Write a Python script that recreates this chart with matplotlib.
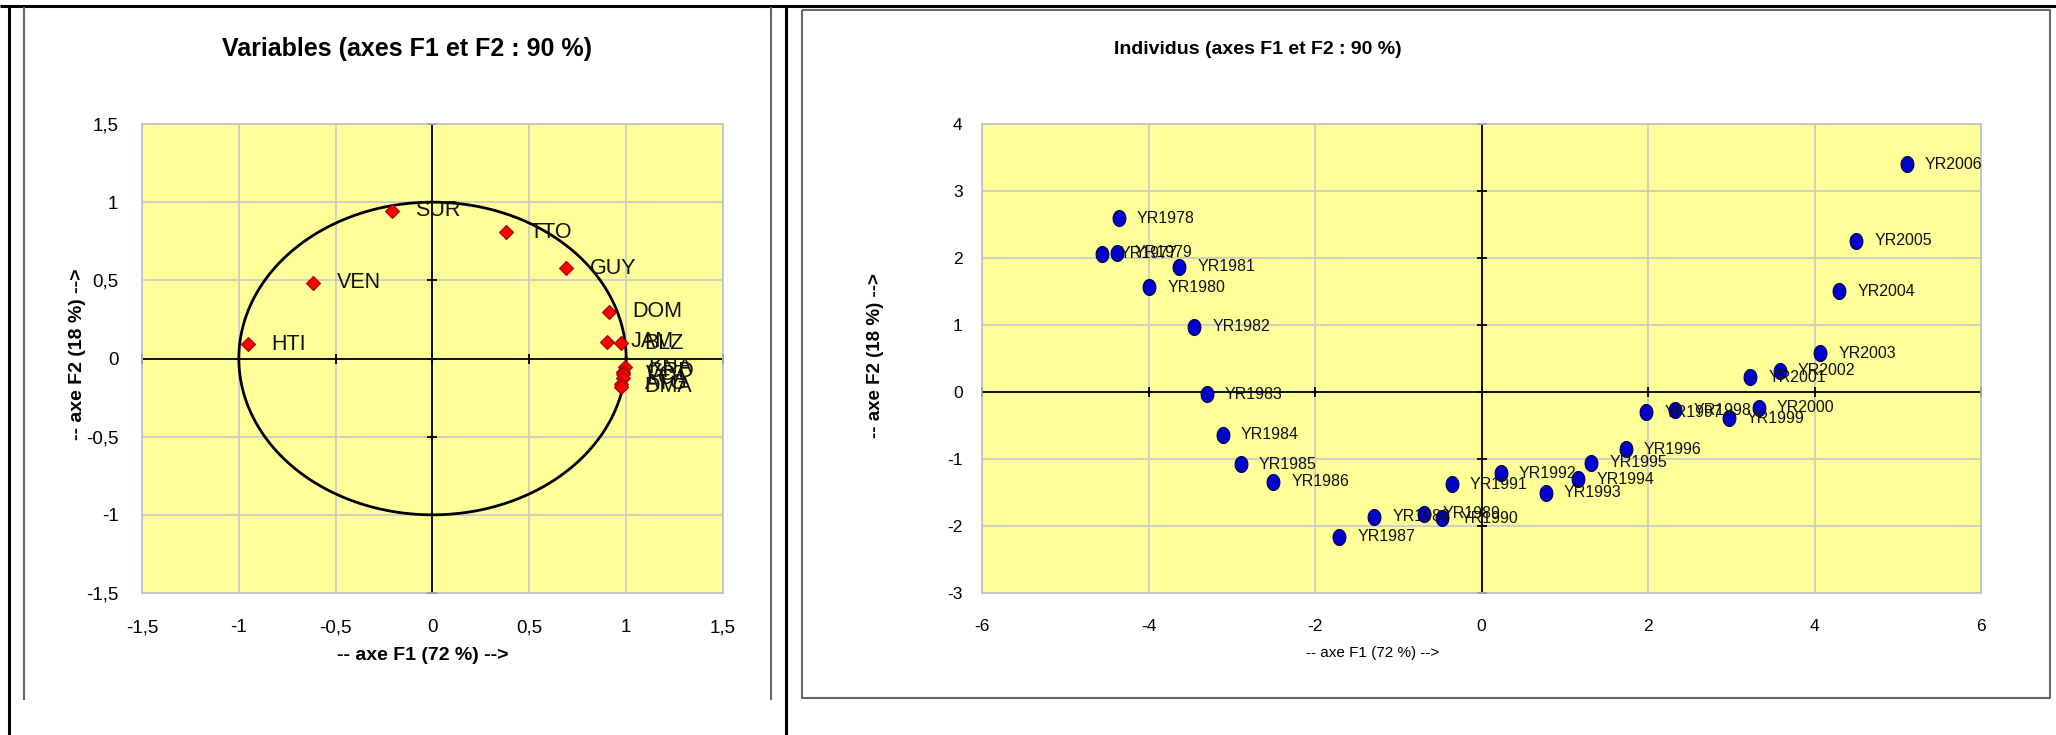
import numpy as np
import matplotlib
matplotlib.use('Agg')
import matplotlib.pyplot as plt
from matplotlib import font_manager
from matplotlib.path import Path
from matplotlib.lines import Line2D

# ---- data: variables (correlation circle) ----
var_names = ['SUR', 'TTO', 'GUY', 'VEN', 'DOM', 'HTI', 'JAM', 'BLZ',
             'KNA', 'GRD', 'VCT', 'LCA', 'ATG', 'DMA']
var_f1 = [-0.21, 0.38, 0.69, -0.615, 0.91, -0.955, 0.90, 0.973,
          0.994, 0.985, 0.982, 0.982, 0.975, 0.971]
var_f2 = [0.946, 0.808, 0.577, 0.486, 0.30, 0.09, 0.108, 0.098,
          -0.056, -0.085, -0.10, -0.127, -0.16, -0.18]

# ---- data: individuals (years) ----
years = ['YR1977', 'YR1978', 'YR1979', 'YR1980', 'YR1981', 'YR1982', 'YR1983',
         'YR1984', 'YR1985', 'YR1986', 'YR1987', 'YR1988', 'YR1989', 'YR1990',
         'YR1991', 'YR1992', 'YR1993', 'YR1994', 'YR1995', 'YR1996', 'YR1997',
         'YR1998', 'YR1999', 'YR2000', 'YR2001', 'YR2002', 'YR2003', 'YR2004',
         'YR2005', 'YR2006']
ind_f1 = [-4.56, -4.36, -4.38, -3.99, -3.63, -3.45, -3.30,
          -3.11, -2.89, -2.50, -1.71, -1.29, -0.69, -0.47,
          -0.36, 0.23, 0.77, 1.16, 1.32, 1.73, 1.98,
          2.33, 2.97, 3.33, 3.23, 3.58, 4.07, 4.30,
          4.50, 5.11]
ind_f2 = [2.06, 2.59, 2.08, 1.56, 1.87, 0.975, -0.03,
          -0.64, -1.075, -1.34, -2.16, -1.86, -1.82, -1.885,
          -1.38, -1.21, -1.50, -1.30, -1.055, -0.855, -0.30,
          -0.27, -0.39, -0.234, 0.22, 0.318, 0.58, 1.506,
          2.255, 3.40]

# ---- tick labels (French decimal comma) ----
var_ticks = [-1.5, -1, -0.5, 0, 0.5, 1, 1.5]
var_ticklabels = ['-1,5', '-1', '-0,5', '0', '0,5', '1', '1,5']
ind_xticks = [-6, -4, -2, 0, 2, 4, 6]
ind_yticks = [-3, -2, -1, 0, 1, 2, 3, 4]

W, H = 2056, 735

installed = {f.name for f in font_manager.fontManager.ttflist}
regular = 'Liberation Sans' if 'Liberation Sans' in installed else 'DejaVu Sans'
plt.rcParams['font.family'] = [regular, 'DejaVu Sans']


def box(x0, y0, x1, y1):
    """pixel box (top-left origin) -> figure fraction rect"""
    return [x0 / W, 1 - y1 / H, (x1 - x0) / W, (y1 - y0) / H]


def fline(fig, xs, ys, color, lw):
    fig.add_artist(Line2D([x / W for x in xs], [1 - y / H for y in ys],
                          transform=fig.transFigure, color=color, lw=lw,
                          solid_capstyle='butt'))


def style_axes(ax, xticks, yticks, xlabels, ylabels, size, xpad, ypad):
    ax.set_facecolor('#FFFF99')
    ax.set_xlim(xticks[0], xticks[-1])
    ax.set_ylim(yticks[0], yticks[-1])
    ax.set_xticks(xticks)
    ax.set_yticks(yticks)
    ax.set_xticklabels(xlabels, fontsize=size)
    ax.set_yticklabels(ylabels, fontsize=size)
    ax.tick_params(length=0)
    ax.tick_params(axis='x', pad=xpad)
    ax.tick_params(axis='y', pad=ypad)
    ax.grid(True, color='#C8C8C8', lw=1.2)
    ax.set_axisbelow(True)
    for s in ax.spines.values():
        s.set_color('#C0C0C0')
        s.set_linewidth(1.2)
    # central axes with cross ticks
    ax.axhline(0, color='black', lw=1.3, zorder=2)
    ax.axvline(0, color='black', lw=1.3, zorder=2)
    ax.plot(xticks, np.zeros(len(xticks)), ls='none', marker='|', ms=7,
            mew=1.3, color='black', zorder=2, clip_on=False)
    ax.plot(np.zeros(len(yticks)), yticks, ls='none', marker='_', ms=7,
            mew=1.3, color='black', zorder=2, clip_on=False)


fig = plt.figure(figsize=(W / 100, H / 100), dpi=100)

# panel frames
fline(fig, [0, W], [6, 6], 'black', 2.2)
fline(fig, [9, 9], [5, H], 'black', 2.2)
fline(fig, [786, 786], [5, H], 'black', 2.2)
fline(fig, [24, 24], [7, 700], '#666666', 1.5)
fline(fig, [771, 771], [7, 700], '#666666', 1.5)
fline(fig, [802, 2050, 2050, 802, 802], [10, 10, 698, 698, 10], '#666666', 1.5)

# ---- left: variables on the correlation circle ----
ax1 = fig.add_axes(box(142, 124, 723, 593))
style_axes(ax1, var_ticks, var_ticks, var_ticklabels, var_ticklabels,
           13.5, 19, 17)
t = np.linspace(0, 2 * np.pi, 400)
ax1.plot(np.cos(t), np.sin(t), color='black', lw=2.0, zorder=3)
ax1.plot(var_f1, var_f2, ls='none', marker='D', ms=7.3, mfc='#FF0000',
         mec='#990000', mew=0.8, zorder=4)
for name, x, y in zip(var_names, var_f1, var_f2):
    ax1.annotate(name, (x, y), xytext=(17, 0), textcoords='offset points',
                 va='center', ha='left', fontsize=15.5, color='#111111', zorder=5)

fig.text(407 / W, 1 - 49 / H, 'Variables (axes F1 et F2 : 90 %)',
         ha='center', va='center', fontsize=18, fontweight='bold')
fig.text(423 / W, 1 - 656 / H, '-- axe F1 (72 %) -->',
         ha='center', va='center', fontsize=14, fontweight='bold')
fig.text(78 / W, 1 - 354 / H, '-- axe F2 (18 %) -->', rotation=90,
         ha='center', va='center', fontsize=14, fontweight='bold')

# ---- right: individuals ----
ax2 = fig.add_axes(box(982, 124, 1981, 593))
style_axes(ax2, ind_xticks, ind_yticks, [str(v) for v in ind_xticks],
           [str(v) for v in ind_yticks], 12.5, 19, 14)
th = np.linspace(0, 2 * np.pi, 61)
oval = Path(np.column_stack([0.8 * np.cos(th), np.sin(th)]), closed=True)
ax2.plot(ind_f1, ind_f2, ls='none', marker=oval, ms=11.5, mfc='#0000CC',
         mec='#000044', mew=0.8, zorder=4)
for name, x, y in zip(years, ind_f1, ind_f2):
    ax2.annotate(name, (x, y), xytext=(13, 0), textcoords='offset points',
                 va='center', ha='left', fontsize=11.5, color='#111111', zorder=5)

fig.text(1258 / W, 1 - 50 / H, 'Individus (axes F1 et F2 : 90 %)',
         ha='center', va='center', fontsize=14, fontweight='bold')
fig.text(1373 / W, 1 - 653 / H, '-- axe F1 (72 %) -->',
         ha='center', va='center', fontsize=11)
fig.text(875 / W, 1 - 356 / H, '-- axe F2 (18 %) -->', rotation=90,
         ha='center', va='center', fontsize=13.5, fontweight='bold')

fig.savefig('out.png', dpi=100)
